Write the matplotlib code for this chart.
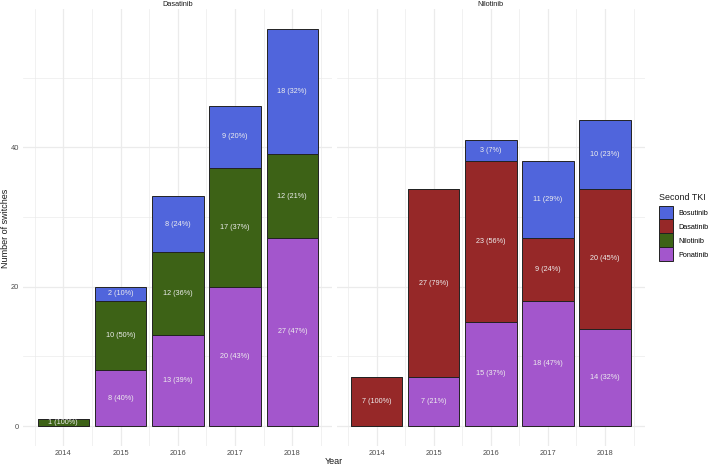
import matplotlib
matplotlib.use("Agg")
import matplotlib.pyplot as plt
import numpy as np
from matplotlib.patches import Patch

plt.rcParams["font.family"] = ["Liberation Sans", "DejaVu Sans"]

years = [2014, 2015, 2016, 2017, 2018]
panels = ["Dasatinib", "Nilotinib"]
tki_order = ["Ponatinib", "Nilotinib", "Dasatinib", "Bosutinib"]  # stacking bottom -> top
legend_order = ["Bosutinib", "Dasatinib", "Nilotinib", "Ponatinib"]
colors = {"Bosutinib": "#5065DC", "Dasatinib": "#962828",
          "Nilotinib": "#3D6216", "Ponatinib": "#A356CC"}

# Panel: first TKI Dasatinib
das_ponatinib = [0, 8, 13, 20, 27]
das_nilotinib = [1, 10, 12, 17, 12]
das_bosutinib = [0, 2, 8, 9, 18]
# Panel: first TKI Nilotinib
nil_ponatinib = [0, 7, 15, 18, 14]
nil_dasatinib = [7, 27, 23, 9, 20]
nil_bosutinib = [0, 0, 3, 11, 10]

data = {
    "Dasatinib": {"Ponatinib": das_ponatinib, "Nilotinib": das_nilotinib,
                  "Bosutinib": das_bosutinib},
    "Nilotinib": {"Ponatinib": nil_ponatinib, "Dasatinib": nil_dasatinib,
                  "Bosutinib": nil_bosutinib},
}

W, H = 709, 466
fig = plt.figure(figsize=(W / 100, H / 100), dpi=100)
ymax = 59.85
ymin = -2.85
top_px, bot_px = 9.1, 445.9
panel_px = [(23.5, 332.1), (337.0, 644.7)]
grid_col = "#EBEBEB"

for pi, name in enumerate(panels):
    l, r = panel_px[pi]
    ax = fig.add_axes([l / W, 1 - bot_px / H, (r - l) / W, (bot_px - top_px) / H])
    ax.set_xlim(2013.305, 2018.695)
    ax.set_ylim(ymin, ymax)
    for s in ax.spines.values():
        s.set_visible(False)
    ax.set_xticks(years)
    ax.set_xticks([2013.5, 2014.5, 2015.5, 2016.5, 2017.5, 2018.5], minor=True)
    ax.set_yticks([0, 20, 40])
    ax.set_yticks([10, 30, 50], minor=True)
    ax.grid(True, which="major", color=grid_col, lw=0.9)
    ax.grid(True, which="minor", color=grid_col, lw=0.5)
    ax.set_axisbelow(True)
    ax.tick_params(which="both", length=0, labelsize=5.4, labelcolor="#4D4D4D")
    ax.tick_params(axis="x", pad=2.6)
    ax.tick_params(axis="y", pad=3.3)
    if pi > 0:
        ax.set_yticklabels([])
    fig.text((l + r) / 2 / W, 1 - 4 / H, name, ha="center", va="center",
             fontsize=5.3, color="#1A1A1A")
    totals = np.zeros(len(years))
    series = data[name]
    for k in series:
        totals += np.array(series[k])
    bottom = np.zeros(len(years))
    for tki in tki_order:
        if tki not in series:
            continue
        vals = np.array(series[tki], dtype=float)
        ax.bar(years, vals, width=0.9, bottom=bottom, color=colors[tki],
               edgecolor="#222222", linewidth=0.7)
        for i, v in enumerate(vals):
            if v > 0:
                pct = int(np.floor(v / totals[i] * 100 + 0.5))
                ax.text(years[i], bottom[i] + v / 2, f"{int(v)} ({pct}%)",
                        ha="center", va="center", fontsize=5.2, color="#EEEEEE")
        bottom += vals

fig.text(5.5 / W, 1 - 228 / H, "Number of switches", rotation=90, ha="center",
         va="center", fontsize=6.5, color="#1A1A1A")
fig.text(334 / W, 1 - 462 / H, "Year", ha="center", va="center", fontsize=6.5,
         color="#1A1A1A")

fig.text(659 / W, 1 - 197 / H, "Second TKI", ha="left", va="center",
         fontsize=6.4, color="#1A1A1A")
handles = [Patch(facecolor=colors[t], edgecolor="#222222", linewidth=0.7, label=t)
           for t in legend_order]
leg = fig.legend(handles=handles, loc="upper left",
                 bbox_to_anchor=(659 / W, 1 - 205.5 / H), frameon=False,
                 fontsize=5.2, handlelength=1.94,
                 handleheight=2.6, handletextpad=0.69, labelspacing=0.0,
                 borderaxespad=0, borderpad=0)

fig.savefig("out.png", dpi=100)
